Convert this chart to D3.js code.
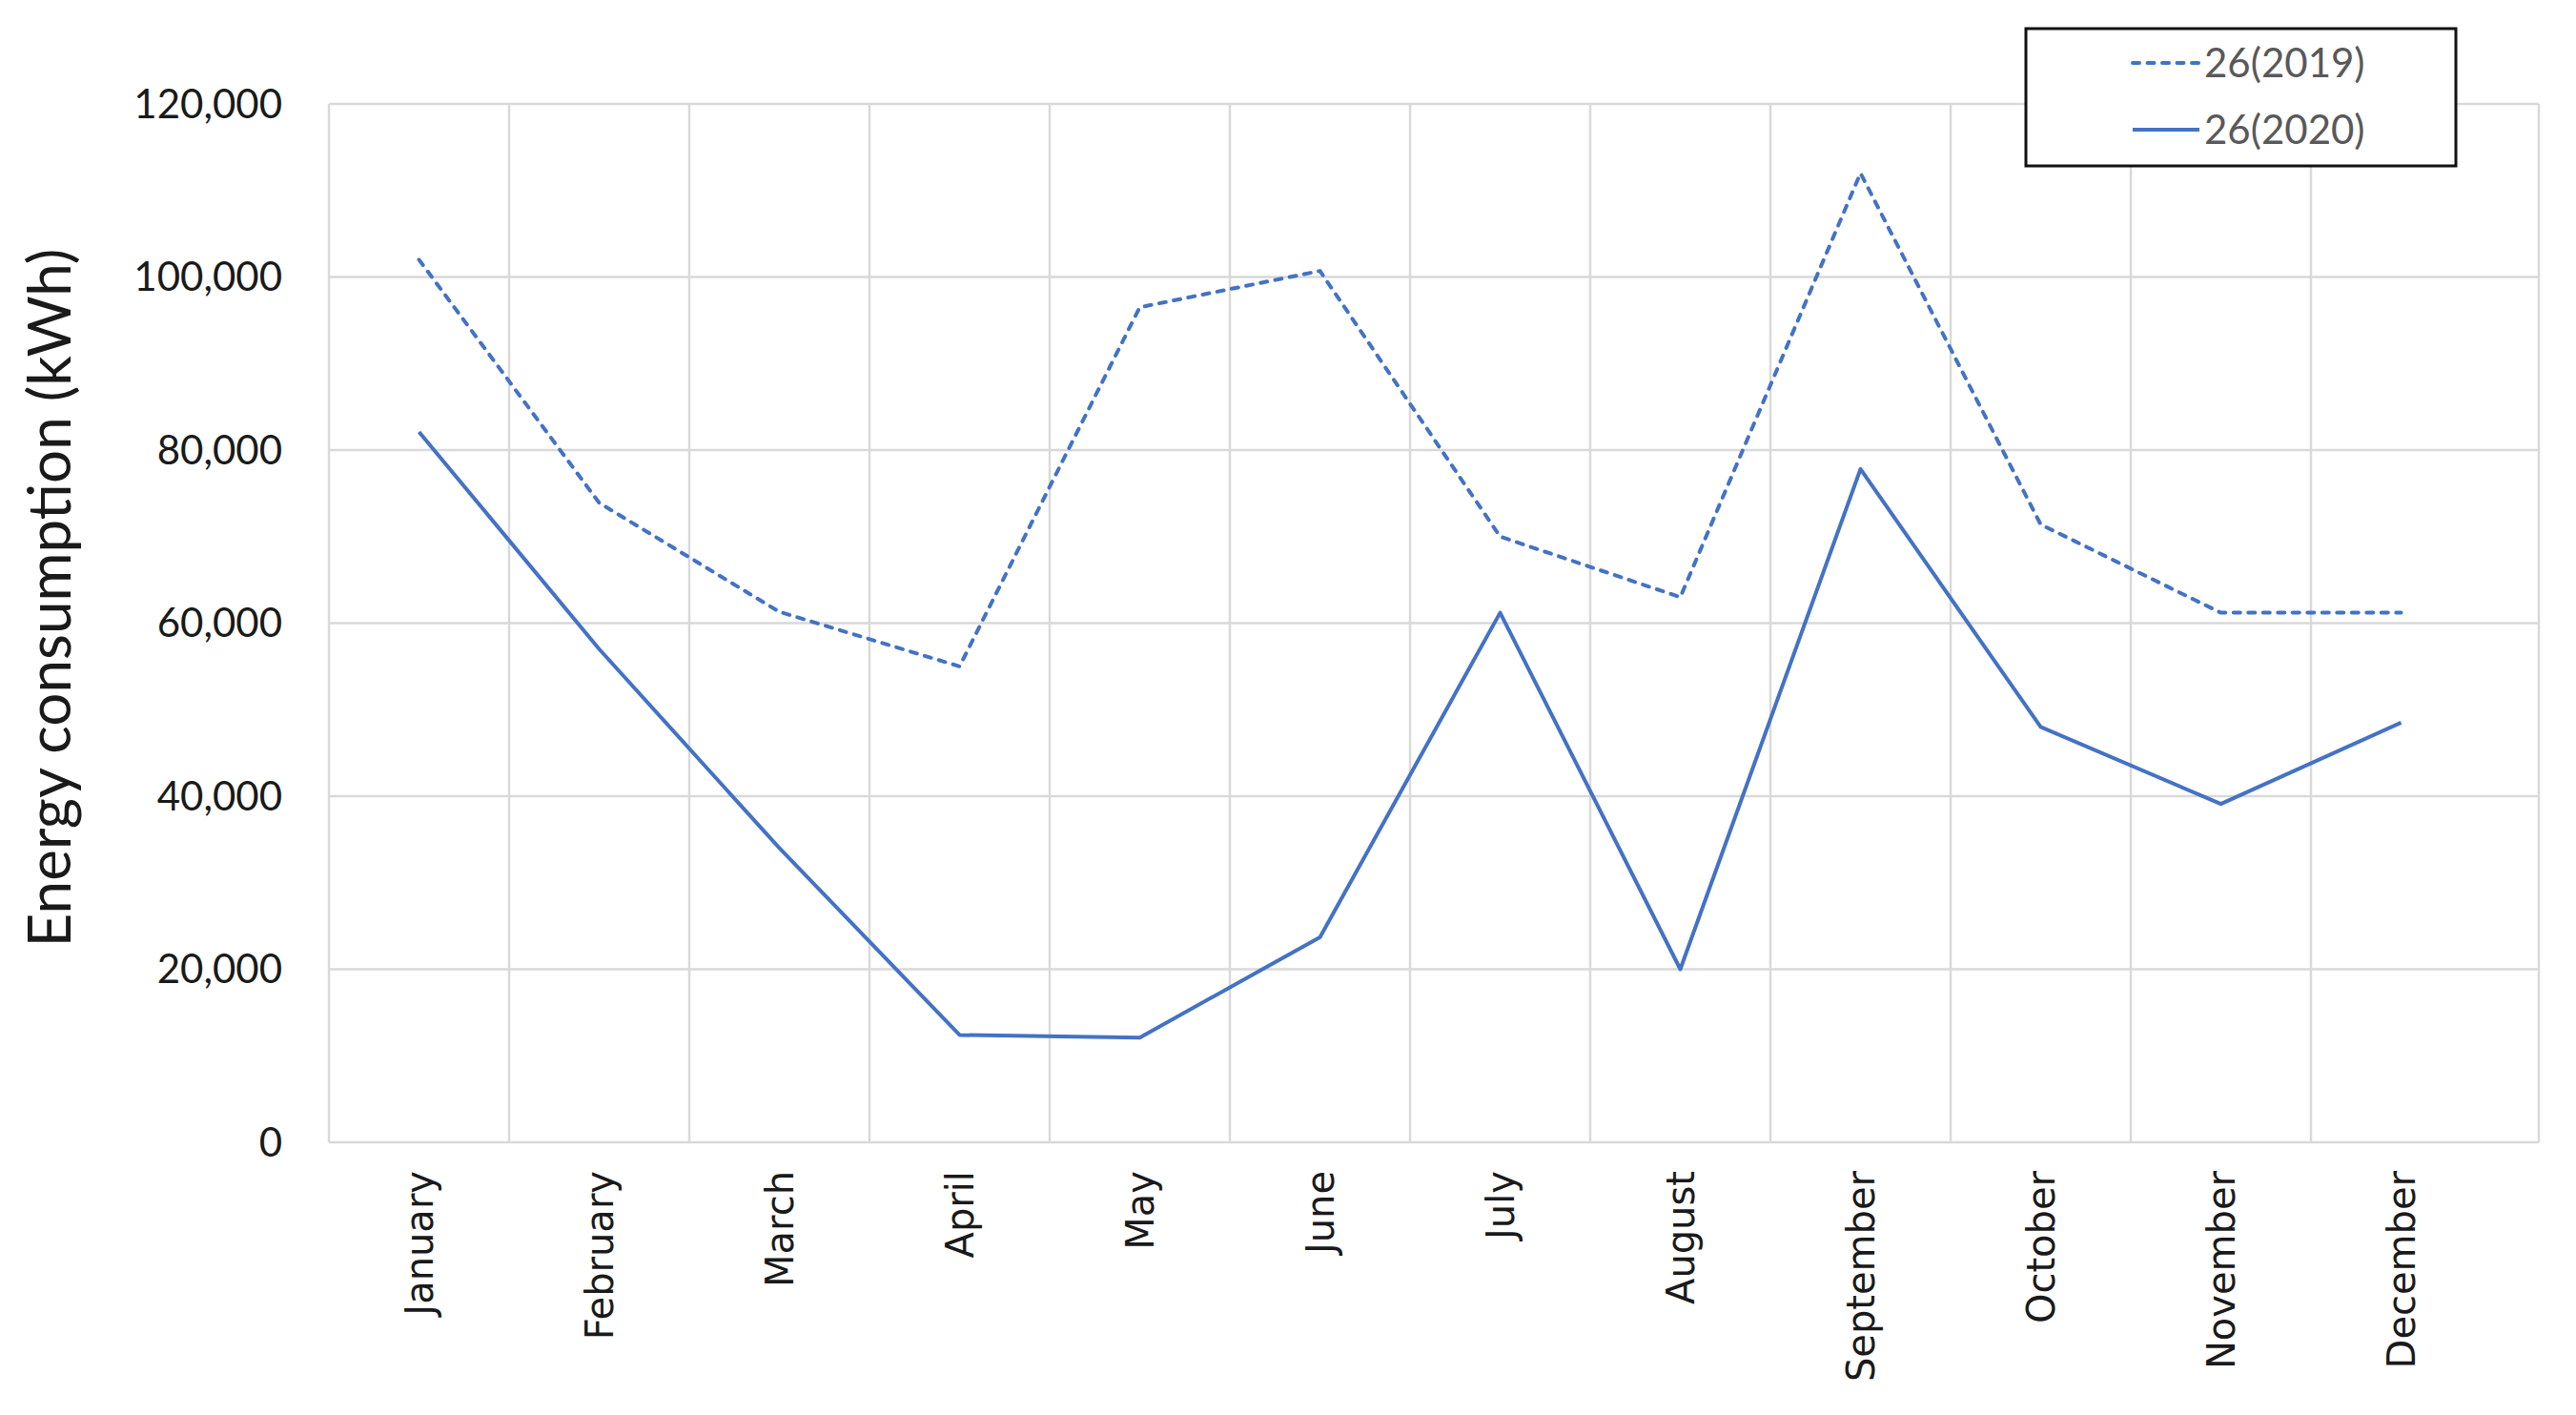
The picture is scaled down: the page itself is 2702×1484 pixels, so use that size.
<!DOCTYPE html>
<html><head><meta charset="utf-8">
<script src="https://cdn.jsdelivr.net/npm/d3@7"></script>
<style>body{margin:0;background:#fff}svg{display:block}</style>
</head><body><svg id="c" width="2702" height="1484"></svg>
<script>
const months = ["January","February","March","April","May","June","July","August","September","October","November","December"];
const values2019 = [102000, 73900, 61300, 55000, 96500, 100700, 70000, 63000, 112000, 71400, 61200, 61200];
const values2020 = [82100, 57000, 34000, 12400, 12100, 23700, 61200, 20000, 77800, 48000, 39100, 48500];
const yTicks = [0, 20000, 40000, 60000, 80000, 100000, 120000];
const seriesNames = ["26(2019)", "26(2020)"];

(function () {
const svg = d3.select("#c");
const pLeft = 345, pTop = 109, pBottom = 1198, band = 189, frameRight = 2663;
const x = d3.scaleBand().domain(months).range([pLeft, pLeft + band * months.length]);
const y = d3.scaleLinear().domain([0, 120000]).range([pBottom, pTop]);
const blue = "#4472C4", grid = "#d9d9d9";
const dash = "7,8.5";

svg.append("g").selectAll("line").data(yTicks).join("line")
  .attr("x1", pLeft).attr("x2", frameRight)
  .attr("y1", d => y(d)).attr("y2", d => y(d))
  .attr("stroke", grid).attr("stroke-width", 2.5);
const vx = months.map(m => x(m)).concat([frameRight]);
svg.append("g").selectAll("line").data(vx).join("line")
  .attr("x1", d => d).attr("x2", d => d)
  .attr("y1", pTop).attr("y2", pBottom)
  .attr("stroke", grid).attr("stroke-width", 2.5);

const fmt = d3.format(",");
svg.append("g").selectAll("text").data(yTicks).join("text")
  .attr("x", 296).attr("y", d => y(d)).attr("dy", "0.35em")
  .attr("text-anchor", "end")
  .attr("font-family", "Lato, 'Open Sans', sans-serif").attr("font-size", 42)
  .attr("fill", "#1a1a1a").text(d => fmt(d));

svg.append("text")
  .attr("transform", `translate(74,627) rotate(-90)`)
  .attr("text-anchor", "middle")
  .attr("font-family", "Lato, 'Open Sans', sans-serif").attr("font-size", 62)
  .attr("fill", "#1a1a1a").text("Energy consumption (kWh)");

svg.append("g").selectAll("text").data(months).join("text")
  .attr("transform", d => `translate(${x(d) + x.bandwidth() / 2},1228) rotate(-90)`)
  .attr("text-anchor", "end").attr("dy", "0.35em")
  .attr("font-family", "'DejaVu Sans', sans-serif").attr("font-size", 40)
  .attr("fill", "#1a1a1a").text(d => d);

const line = d3.line().x((d, i) => x(months[i]) + x.bandwidth() / 2).y(d => y(d));
svg.append("path").datum(values2019).attr("d", line)
  .attr("fill", "none").attr("stroke", blue).attr("stroke-width", 4)
  .attr("stroke-linecap", "round").attr("stroke-dasharray", dash);
svg.append("path").datum(values2020).attr("d", line)
  .attr("fill", "none").attr("stroke", blue).attr("stroke-width", 4)
  .attr("stroke-linejoin", "round");

const lg = svg.append("g");
lg.append("rect").attr("x", 2125).attr("y", 30).attr("width", 451).attr("height", 144)
  .attr("fill", "#fff").attr("stroke", "#111").attr("stroke-width", 3);
const ly = [66, 136];
seriesNames.forEach((n, i) => {
  lg.append("line").attr("x1", 2237).attr("x2", 2307).attr("y1", ly[i]).attr("y2", ly[i])
    .attr("stroke", blue).attr("stroke-width", 4)
    .attr("stroke-linecap", i === 0 ? "round" : "butt")
    .attr("stroke-dasharray", i === 0 ? dash : null);
  lg.append("text").attr("x", 2312).attr("y", ly[i]).attr("dy", "0.35em")
    .attr("font-family", "Lato, 'Open Sans', sans-serif").attr("font-size", 42)
    .attr("fill", "#595959").text(n);
});
})();
</script></body></html>
